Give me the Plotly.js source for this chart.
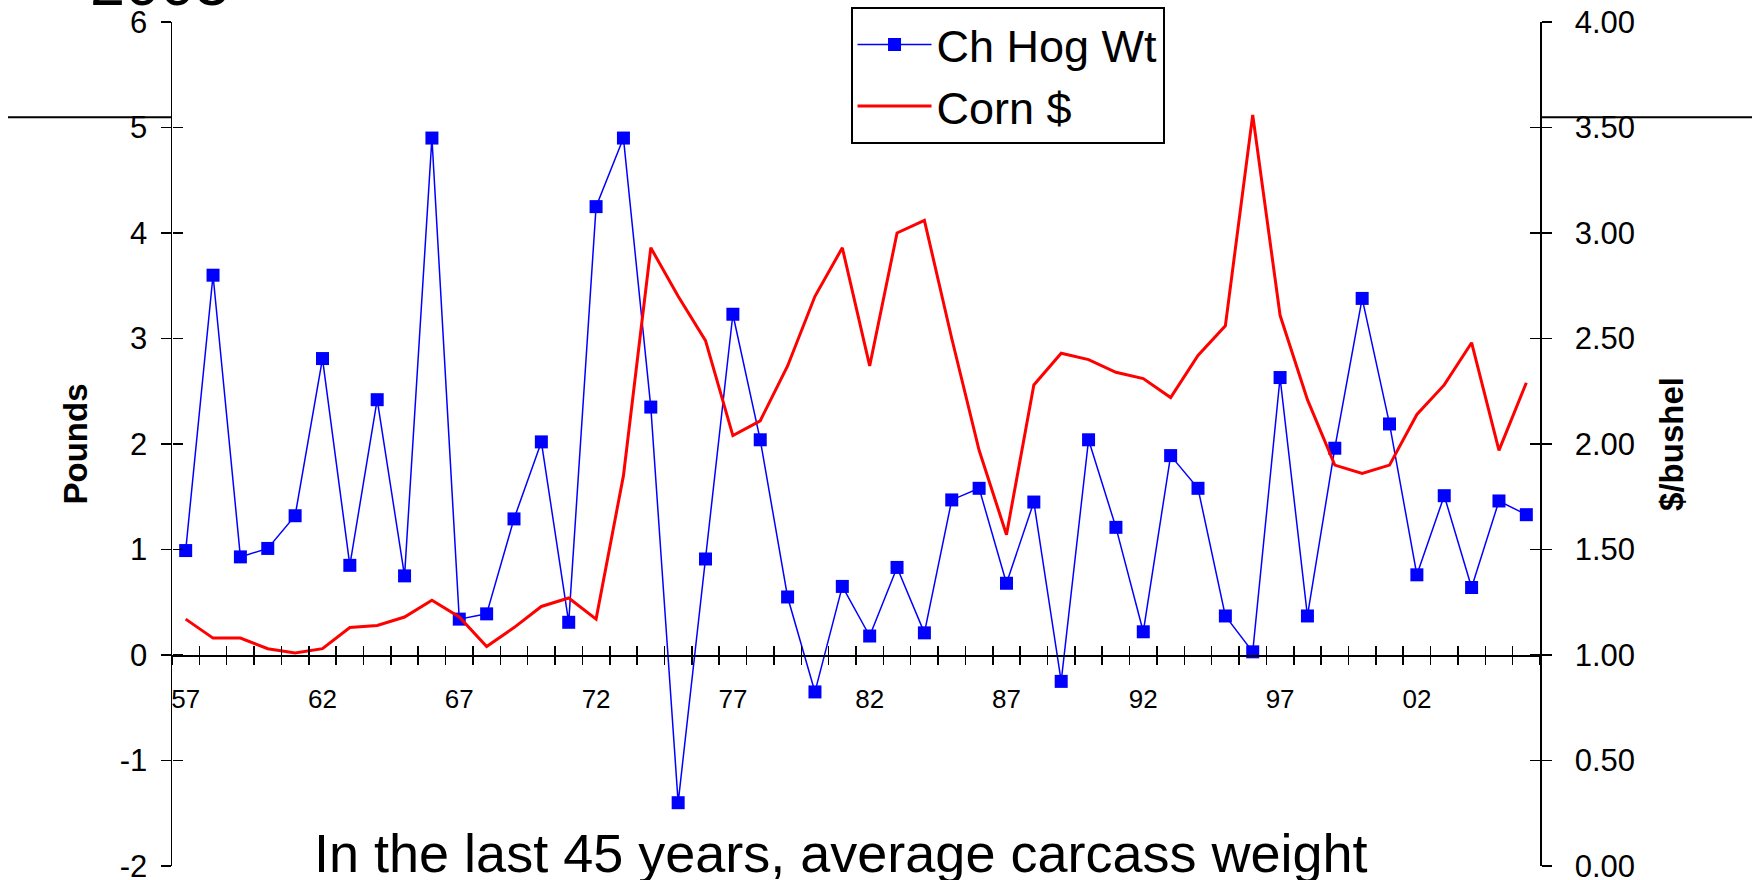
<!DOCTYPE html>
<html>
<head>
<meta charset="utf-8">
<script src="https://cdn.plot.ly/plotly-3.0.1.min.js"></script>
<style>
html,body{margin:0;padding:0;background:#fff;}
#chart{width:1761px;height:880px;}
</style>
</head>
<body>
<div id="chart"></div>
<script>
// ---- data ----
const years = [1957,1958,1959,1960,1961,1962,1963,1964,1965,1966,
               1967,1968,1969,1970,1971,1972,1973,1974,1975,1976,
               1977,1978,1979,1980,1981,1982,1983,1984,1985,1986,
               1987,1988,1989,1990,1991,1992,1993,1994,1995,1996,
               1997,1998,1999,2000,2001,2002,2003,2004,2005,2006];
const hogWt = [0.99,3.60,0.93,1.01,1.32,2.81,0.85,2.42,0.75,4.90,
               0.34,0.39,1.29,2.02,0.31,4.25,4.90,2.35,-1.40,0.91,
               3.23,2.04,0.55,-0.35,0.65,0.18,0.83,0.21,1.47,1.58,
               0.68,1.45,-0.25,2.04,1.21,0.22,1.89,1.58,0.37,0.03,
               2.63,0.37,1.96,3.38,2.19,0.76,1.51,0.64,1.46,1.33];
const cornPrice = [1.17,1.08,1.08,1.03,1.01,1.03,1.13,1.14,1.18,1.26,
                   1.18,1.04,1.13,1.23,1.27,1.17,1.85,2.93,2.70,2.49,
                   2.04,2.11,2.37,2.70,2.93,2.37,3.00,3.06,2.50,1.97,
                   1.57,2.28,2.43,2.40,2.34,2.31,2.22,2.42,2.56,3.56,
                   2.61,2.21,1.90,1.86,1.90,2.14,2.28,2.48,1.97,2.29];
const xTickVals = [1957,1962,1967,1972,1977,1982,1987,1992,1997,2002];
const xTickText = ['57','62','67','72','77','82','87','92','97','02'];
const leftTickVals = [-2,-1,0,1,2,3,4,5,6];
const leftTickText = ['-2','-1','0','1','2','3','4','5','6'];
const rightTickVals = [0,0.5,1,1.5,2,2.5,3,3.5,4];
const rightTickText = ['0.00','0.50','1.00','1.50','2.00','2.50','3.00','3.50','4.00'];
const seriesNames = ['Ch Hog Wt','Corn $'];
const leftTitle = 'Pounds';
const rightTitle = '$/bushel';
const topText = '2005';
const bottomText = 'In the last 45 years, average carcass weight';

// ---- chart ----
const FONT = 'Arial, "Liberation Sans", sans-serif';
const xRange = [1956.5, 2006.5];

const traces = [
  {x: years, y: hogWt, name: seriesNames[0], type: 'scatter', mode: 'lines+markers',
   xaxis: 'x', yaxis: 'y',
   line: {color: '#0000ff', width: 1.5},
   marker: {color: '#0000ff', symbol: 'square', size: 13}},
  {x: years, y: cornPrice, name: seriesNames[1], type: 'scatter', mode: 'lines',
   xaxis: 'x', yaxis: 'y2',
   line: {color: '#ff0000', width: 3}},
  {x: [], y: [], xaxis: 'x2', yaxis: 'y3', showlegend: false, hoverinfo: 'skip', type: 'scatter'},
  {x: [], y: [], xaxis: 'x3', yaxis: 'y4', showlegend: false, hoverinfo: 'skip', type: 'scatter'}
];

const tickAxisX = (dir) => ({
  range: xRange, overlaying: 'x', anchor: 'free', position: 0.25,
  tick0: 1956.5, dtick: 1, ticks: dir, ticklen: 9, tickwidth: 1.5, tickcolor: '#000',
  showticklabels: false, showline: false, showgrid: false, zeroline: false, fixedrange: true
});

const layout = {
  width: 1761, height: 880,
  margin: {l: 172, r: 221, t: 22, b: 14, autoexpand: false},
  paper_bgcolor: '#fff', plot_bgcolor: 'rgba(0,0,0,0)',
  font: {family: FONT, color: '#000'},
  showlegend: true,
  legend: {
    x: 0.496, y: 1.018, xanchor: 'left', yanchor: 'top',
    bordercolor: '#000', borderwidth: 2, bgcolor: '#fff',
    font: {family: FONT, size: 45, color: '#000'},
    itemwidth: 74, tracegroupgap: 0
  },
  xaxis: {
    range: xRange, anchor: 'free', position: 0.25,
    tickmode: 'array', tickvals: xTickVals, ticktext: xTickText,
    ticks: 'outside', ticklen: 9, tickcolor: 'rgba(0,0,0,0)',
    ticklabelstandoff: 11, ticklabeloverflow: 'allow',
    tickfont: {family: FONT, size: 26, color: '#000'},
    showline: true, linecolor: '#000', linewidth: 1.5,
    showgrid: false, zeroline: false
  },
  xaxis2: tickAxisX('outside'),
  xaxis3: tickAxisX('inside'),
  yaxis: {
    range: [-2, 6], anchor: 'x',
    tickmode: 'array', tickvals: leftTickVals, ticktext: leftTickText,
    ticks: 'outside', ticklen: 10, tickwidth: 1.5, tickcolor: '#000',
    ticklabelstandoff: 7, ticklabeloverflow: 'allow',
    tickfont: {family: FONT, size: 31, color: '#000'},
    showline: true, linecolor: '#000', linewidth: 1.5,
    showgrid: false, zeroline: false,
    title: {text: '<b>' + leftTitle + '</b>', font: {family: FONT, size: 33, color: '#000'}, standoff: 22}
  },
  yaxis2: {
    range: [0, 4],
    tickmode: 'array', tickvals: rightTickVals, ticktext: rightTickText,
    overlaying: 'y', side: 'right', anchor: 'x',
    ticks: 'outside', ticklen: 10, tickwidth: 1.5, tickcolor: '#000',
    ticklabelstandoff: 17, ticklabeloverflow: 'allow',
    tickfont: {family: FONT, size: 31, color: '#000'},
    showline: true, linecolor: '#000', linewidth: 1.5,
    showgrid: false, zeroline: false,
    title: {text: '<b>' + rightTitle + '</b>', font: {family: FONT, size: 33, color: '#000'}, standoff: 26}
  },
  yaxis3: {
    range: [-2, 6], dtick: 1, tick0: 0, overlaying: 'y', side: 'left', anchor: 'free', position: 0,
    ticks: 'inside', ticklen: 10, tickwidth: 1.5, tickcolor: '#000',
    showticklabels: false, showline: false, showgrid: false, zeroline: false
  },
  yaxis4: {
    range: [0, 4], dtick: 0.5, tick0: 0, overlaying: 'y', side: 'right', anchor: 'free', position: 1,
    ticks: 'inside', ticklen: 10, tickwidth: 1.5, tickcolor: '#000',
    showticklabels: false, showline: false, showgrid: false, zeroline: false
  },
  shapes: [
    {type: 'line', xref: 'paper', yref: 'paper', x0: -0.1199, x1: 0, y0: 0.887, y1: 0.887,
     line: {color: '#000', width: 2}},
    {type: 'line', xref: 'paper', yref: 'paper', x0: 1, x1: 1.155, y0: 0.887, y1: 0.887,
     line: {color: '#000', width: 2}}
  ],
  annotations: [
    {text: topText, xref: 'paper', yref: 'paper', x: -0.0088, y: 1.046,
     xanchor: 'center', yanchor: 'middle', showarrow: false,
     font: {family: FONT, size: 63, color: '#000'}},
    {text: bottomText, xref: 'paper', yref: 'paper', x: 0.489, y: 0.0150,
     xanchor: 'center', yanchor: 'middle', showarrow: false,
     font: {family: FONT, size: 54, color: '#000'}}
  ]
};

Plotly.newPlot('chart', traces, layout, {displayModeBar: false, staticPlot: true});
</script>
</body>
</html>
